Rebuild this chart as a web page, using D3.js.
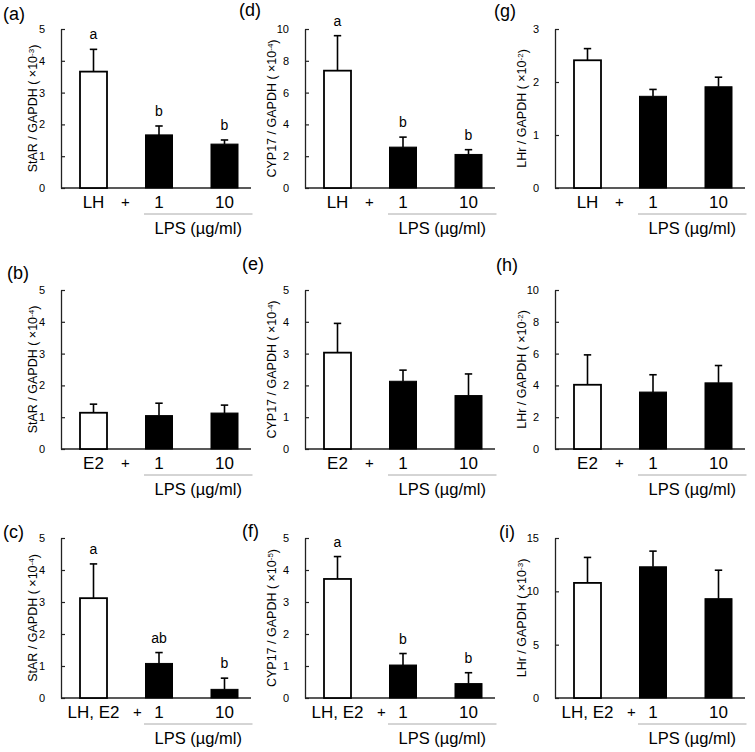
<!DOCTYPE html>
<html><head><meta charset="utf-8">
<script src="https://cdn.jsdelivr.net/npm/d3@7"></script>
<style>
body{margin:0;background:#fff}
svg text{font-family:"Liberation Sans",Arial,sans-serif;fill:#000}
</style>
</head><body>
<svg id="chart" width="755" height="752"></svg>
<script>
// ---- data (panel order a..i, column by column) ----
const panelNames = ["(a)","(b)","(c)","(d)","(e)","(f)","(g)","(h)","(i)"];
const genes      = ["StAR","StAR","StAR","CYP17","CYP17","CYP17","LHr","LHr","LHr"];
const exponents  = ["-3","-4","-4","-4","-4","-5","-2","-2","-3"];
const yMax       = [5,5,5,10,5,5,3,10,15];
const yStep      = [1,1,1,2,1,1,1,2,5];
const treatments = ["LH","E2","LH, E2"];          // by row
const doses      = ["1","10"];
const doseLabel  = "LPS (µg/ml)";
const means = [
  [3.66,1.67,1.38],[1.14,1.05,1.13],[3.12,1.08,0.27],
  [7.38,2.57,2.11],[3.03,2.13,1.68],[3.72,1.03,0.45],
  [2.41,1.73,1.91],[4.04,3.58,4.16],[10.79,12.30,9.31]
];
const sems = [
  [0.70,0.28,0.13],[0.27,0.39,0.25],[1.07,0.34,0.35],
  [2.20,0.63,0.30],[0.92,0.35,0.68],[0.70,0.36,0.34],
  [0.22,0.13,0.18],[1.88,1.09,1.09],[2.39,1.47,2.67]
];
const letters = [
  ["a","b","b"],[],["a","ab","b"],
  ["a","b","b"],[],["a","b","b"],
  [],[],[]
];

// ---- layout ----
const colX   = [61,305,555];
const rowTop = [29,290,538];
const rowZero= [188,449,698];
const labelPos = [[3,14],[7,273],[3,532],[239,10],[242,264],[242,531],[494,11],[496,265],[499,532]];

const svg = d3.select("#chart");

panelNames.forEach((name,p)=>{
  const col = Math.floor(p/3), row = p%3;
  const x0 = colX[col];
  const g = svg.append("g");
  const y = d3.scaleLinear().domain([0,yMax[p]]).range([rowZero[row],rowTop[row]]);
  const cats = [treatments[row]].concat(doses);
  const x = d3.scalePoint().domain([0,1,2]).range([x0+32.5,x0+163.5]);
  const bw = 27;

  // y axis
  const ax = g.append("g").attr("transform",`translate(${x0},0)`)
    .call(d3.axisLeft(y).tickValues(d3.range(0,yMax[p]+1e-9,yStep[p]))
      .tickFormat(d3.format("d"))
      .tickSizeInner(-4).tickSizeOuter(0).tickPadding(16));
  ax.select(".domain").attr("stroke","#222").attr("stroke-width",1.3);
  ax.selectAll(".tick line").attr("stroke","#222").attr("stroke-width",1.2);
  ax.selectAll(".tick text").attr("font-size",11).attr("font-family","Liberation Sans, Arial, sans-serif").attr("fill","#111");

  // baseline
  g.append("line").attr("x1",x0).attr("x2",x0+190)
    .attr("y1",y(0)).attr("y2",y(0)).attr("stroke","#222").attr("stroke-width",1.3);

  // bars
  means[p].forEach((m,i)=>{
    const cx = x(i);
    const top = y(m), cap = y(m+sems[p][i]);
    g.append("line").attr("x1",cx).attr("x2",cx).attr("y1",top).attr("y2",cap)
      .attr("stroke","#000").attr("stroke-width",1.6);
    g.append("line").attr("x1",cx-3.7).attr("x2",cx+3.7).attr("y1",cap).attr("y2",cap)
      .attr("stroke","#000").attr("stroke-width",1.6);
    g.append("rect").attr("x",cx-bw/2).attr("width",bw)
      .attr("y",top).attr("height",y(0)-top)
      .attr("fill", i===0 ? "#fff" : "#000")
      .attr("stroke","#000").attr("stroke-width", i===0 ? 1.8 : 1);
    if(letters[p][i]){
      g.append("text").attr("x",cx).attr("y",cap-10).attr("text-anchor","middle")
        .attr("font-size",14).text(letters[p][i]);
    }
  });

  // x labels
  const ly = y(0)+14;
  const t0 = g.append("text").attr("x",x(0)).attr("y",ly).attr("dy","0.35em")
    .attr("text-anchor","middle").attr("font-size",17).text(cats[0]);
  const right = x(0) + t0.node().getComputedTextLength()/2;
  const plusX = Math.max(x0+64.5, right+18);
  g.append("text").attr("x",plusX).attr("y",ly).attr("dy","0.35em")
    .attr("text-anchor","middle").attr("font-size",15).text("+");
  [1,2].forEach(i=>{
    g.append("text").attr("x",x(i)).attr("y",ly).attr("dy","0.35em")
      .attr("text-anchor","middle").attr("font-size",17).text(cats[i]);
  });
  g.append("line").attr("x1",x(1)-15).attr("x2",x(2)+28)
    .attr("y1",y(0)+26).attr("y2",y(0)+26).attr("stroke","#aaa").attr("stroke-width",1);
  g.append("text").attr("x",(x(1)-15+x(2)+28)/2).attr("y",y(0)+40).attr("dy","0.35em")
    .attr("text-anchor","middle").attr("font-size",16.5).text(doseLabel);

  // y label
  const lx = x0 - (col===0 ? 28 : 33);
  const lyc = (y(0)+y(yMax[p]))/2;
  const yl = g.append("text").attr("transform",`translate(${lx},${lyc}) rotate(-90)`)
    .attr("text-anchor","middle").attr("dy","0.35em").attr("font-size",12.5);
  yl.append("tspan").text(`${genes[p]} / GAPDH ( ×10`);
  yl.append("tspan").attr("font-size",8).attr("dy","-0.45em").text(exponents[p]);
  yl.append("tspan").attr("dy","0.3em").text(")");

  // panel label
  g.append("text").attr("x",labelPos[p][0]).attr("y",labelPos[p][1]).attr("dy","0.35em")
    .attr("font-size",18).text(name);
});
</script>
</body></html>
